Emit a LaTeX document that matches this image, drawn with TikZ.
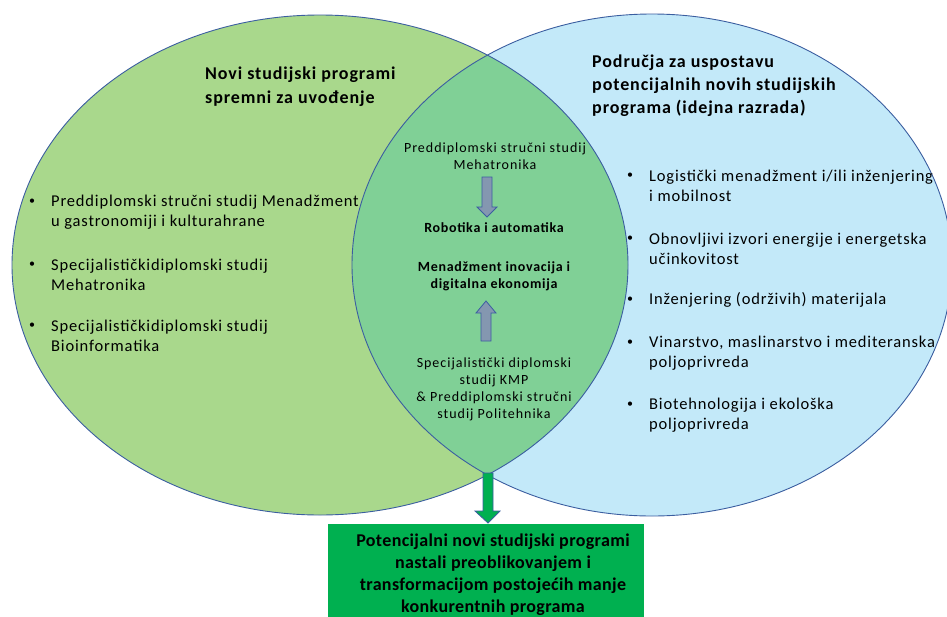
\documentclass[tikz,border=0pt]{standalone}
\usepackage{fontspec}
\setmainfont{Carlito}
\newfontfamily\bodyf[LetterSpace=5]{Carlito}
\newfontfamily\lensf[LetterSpace=7]{Carlito}
\newfontfamily\lensbf[LetterSpace=5]{Carlito Bold}
\newfontfamily\titlef[LetterSpace=5]{Carlito Bold}
\newfontfamily\boxf[LetterSpace=2]{Carlito Bold}
\begin{document}
\begin{tikzpicture}[x=1pt,y=-1pt,
  outline/.style={draw=ellblue, line width=0.9pt},
  bodytext/.style={font=\bodyf\fontsize{16.5}{20}\selectfont, align=left, anchor=west, inner sep=0pt},
  lenstext/.style={font=\lensf\fontsize{14}{17}\selectfont, align=center, inner sep=0pt},
  lensbold/.style={font=\lensbf\fontsize{14}{17}\selectfont, align=center, inner sep=0pt},
  titletext/.style={font=\titlef\fontsize{18}{23.5}\selectfont, align=left, anchor=north west, inner sep=0pt},
  bul/.style={font=\fontsize{12}{12}\selectfont, inner sep=0pt},
  smallarrow/.style={fill=arrgray, draw=ellblue, line width=0.8pt},
  bigarrow/.style={fill=boxgreen, draw=ellblue, line width=0.8pt}
]
\definecolor{leftgreen}{HTML}{A9D88C}
\definecolor{rightblue}{HTML}{C3E9F9}
\definecolor{lensgreen}{HTML}{80D096}
\definecolor{ellblue}{HTML}{3B5EA0}
\definecolor{arrgray}{HTML}{8497B0}
\definecolor{boxgreen}{HTML}{00B050}
\useasboundingbox (0,0) rectangle (947,616);
% ellipses
\fill[leftgreen] (320,265) ellipse [x radius=308, y radius=250];
\fill[rightblue] (652,265) ellipse [x radius=300, y radius=251];
\begin{scope}
  \clip (320,265) ellipse [x radius=308, y radius=250];
  \fill[lensgreen] (652,265) ellipse [x radius=300, y radius=251];
\end{scope}
\draw[outline] (320,265) ellipse [x radius=308, y radius=250];
\draw[outline] (652,265) ellipse [x radius=300, y radius=251];
% titles
\node[titletext, font=\titlef\fontsize{18}{24}\selectfont] (lt) at (205,67) {Novi studijski programi\\spremni za uvođenje};
\node[titletext, font=\titlef\fontsize{18}{23}\selectfont] (rt) at (592,55) {Područja za uspostavu\\potencijalnih novih studijskih\\programa (idejna razrada)};
% left bullets
\node[bul] (lb1) at (32,202) {•};
\node[bodytext] (l1) at (51,212) {Preddiplomski stručni studij Menadžment\\u gastronomiji i kulturahrane};
\node[bul] (lb2) at (32,265) {•};
\node[bodytext] (l2) at (51,275) {Specijalističkidiplomski studij\\Mehatronika};
\node[bul] (lb3) at (32,326) {•};
\node[bodytext] (l3) at (51,336) {Specijalističkidiplomski studij\\Bioinformatika};
% right bullets
\node[bul] (rb1) at (630,176) {•};
\node[bodytext] (r1) at (649,186) {Logistički menadžment i/ili inženjering\\i mobilnost};
\node[bul] (rb2) at (630,239) {•};
\node[bodytext] (r2) at (649,249) {Obnovljivi izvori energije i energetska\\učinkovitost};
\node[bul] (rb3) at (630,300) {•};
\node[bodytext] (r3) at (649,300) {Inženjering (održivih) materijala};
\node[bul] (rb4) at (630,343) {•};
\node[bodytext] (r4) at (649,353) {Vinarstvo, maslinarstvo i mediteranska\\poljoprivreda};
\node[bul] (rb5) at (630,405) {•};
\node[bodytext] (r5) at (649,415) {Biotehnologija i ekološka\\poljoprivreda};
% lens content
\node[lenstext] (m1) at (495,156) {Preddiplomski stručni studij\\Mehatronika};
\node[lensbold] (m2) at (494,228) {Robotika i automatika};
\node[lensbold] (m3) at (494,276) {Menadžment inovacija i\\digitalna ekonomija};
\node[lenstext] (m4) at (494,389) {Specijalistički diplomski\\studij KMP\\\& Preddiplomski stručni\\studij Politehnika};
% small arrows
\draw[smallarrow] (482,177) -- (492,177) -- (492,207) -- (497,207) -- (487,217) -- (477,207) -- (482,207) -- cycle;
\draw[smallarrow] (481,341) -- (491,341) -- (491,313) -- (496,313) -- (486,301) -- (476,313) -- (481,313) -- cycle;
% bottom box
\node[fill=boxgreen, minimum width=316pt, minimum height=100pt, anchor=north west, inner sep=0pt] (box) at (328,524) {};
\node[font=\boxf\fontsize{18}{22}\selectfont, align=center, inner sep=0pt, anchor=north] (boxtxt) at (493,534) {Potencijalni novi studijski programi\\nastali preoblikovanjem i\\transformacijom postojećih manje\\konkurentnih programa};
% big arrow
\draw[bigarrow] (483,473) -- (493,473) -- (493,511) -- (500,511) -- (488,523) -- (475,511) -- (483,511) -- cycle;
\end{tikzpicture}
\end{document}
